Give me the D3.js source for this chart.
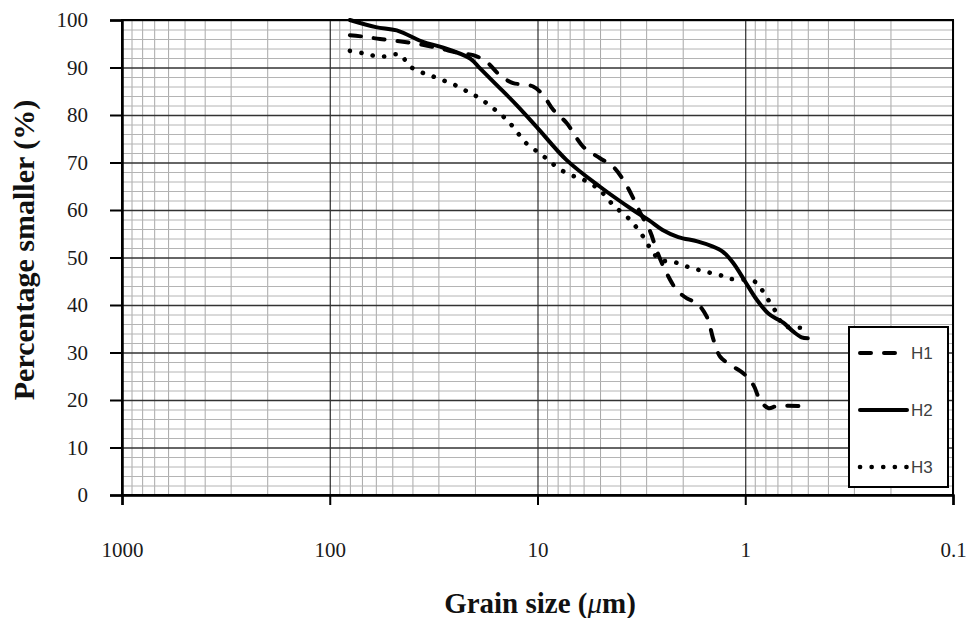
<!DOCTYPE html>
<html>
<head>
<meta charset="utf-8">
<script src="https://cdn.jsdelivr.net/npm/d3@7"></script>
<style>
  html, body { margin: 0; padding: 0; background: #fff; }
  svg { display: block; }
</style>
</head>
<body>
<svg id="chart" width="968" height="618"></svg>
<script>
// Grain size distribution (percentage smaller vs. grain size in µm)
const seriesNames = ["H1", "H2", "H3"];

const sizesH1 = [80, 69, 57.3, 47.6, 36.8, 29.5, 23.6, 20.4, 17.6, 15.2, 13.1, 12.1, 10.5, 9.4, 8.4, 7.24, 6.02, 5.0, 4.32, 3.86, 3.46, 3.21, 2.87, 2.67, 2.39, 2.14, 1.91, 1.71, 1.53, 1.42, 1.32, 1.18, 1.02, 0.915, 0.849, 0.774, 0.706, 0.5];
const pctH1   = [96.8, 96.5, 96, 95.6, 94.9, 94, 93, 92.6, 91.2, 88.4, 86.7, 86.5, 86, 84.2, 81.1, 78.3, 73.3, 70.9, 69.1, 66.3, 62.5, 59.5, 55.5, 51.5, 46.7, 43.2, 41.4, 40.4, 37.5, 32.6, 29.1, 27.4, 25.6, 23.2, 20, 18.3, 18.7, 18.7];

const sizesH2 = [80, 60, 47.6, 35.6, 29.5, 21.1, 18.9, 15.7, 12.6, 10.1, 7.24, 5, 3.47, 2.9, 2.5, 2.1, 1.7, 1.45, 1.28, 1.14, 1.0, 0.88, 0.774, 0.70, 0.656, 0.587, 0.535, 0.5];
const pctH2   = [100, 98.5, 97.8, 95.4, 94.4, 91.9, 89.8, 86.3, 82.1, 77.5, 70.5, 64.9, 60, 57.8, 55.8, 54.3, 53.4, 52.4, 51.2, 48.8, 44.9, 41.1, 38.2, 37, 36.3, 34.4, 33.2, 33];

const sizesH3 = [80, 69, 61.7, 55.2, 48.5, 45.1, 41.9, 35.4, 31.8, 27.4, 24.1, 21.5, 19.6, 17.6, 16, 14.3, 13.1, 11.3, 9.73, 8.87, 7.94, 6.98, 6.24, 5.59, 5, 4.64, 4.24, 3.58, 3.1, 2.87, 2.57, 2.22, 1.91, 1.68, 1.48, 1.28, 1.17, 1.0, 0.88, 0.82, 0.76, 0.70, 0.656, 0.6, 0.53];
const pctH3   = [93.5, 93, 92.5, 92.3, 92.8, 92.6, 90.5, 88.8, 88.1, 87, 86, 84.8, 83.9, 82.5, 81.1, 79.3, 77.5, 74, 71.9, 70.5, 68.8, 67.4, 66.7, 65.6, 64.2, 62.5, 60.7, 57.9, 54.4, 52, 49.5, 49.1, 48.1, 47.4, 46.8, 46.1, 45.5, 45.3, 44.7, 42.8, 40.5, 38, 35.6, 35.3, 35.2];

const xTickValues = [1000, 100, 10, 1, 0.1];
const xTickLabels = ["1000", "100", "10", "1", "0.1"];
const yTickValues = [0, 10, 20, 30, 40, 50, 60, 70, 80, 90, 100];

const xTitle = "Grain size (";
const xTitleUnit = "\u03bc";
const xTitleEnd = "m)";
const yTitle = "Percentage smaller (%)";

// ---- layout
const plotL = 122, plotR = 953, plotT = 20, plotB = 495;
const svg = d3.select("#chart");

const x = d3.scaleLog().domain([1000, 0.1]).range([plotL, plotR]);
const y = d3.scaleLinear().domain([0, 100]).range([plotB, plotT]);

// minor values: 2..9 within each decade; every 2 % vertically
const minorX = [];
[0.1, 1, 10, 100].forEach(dec => { for (let k = 2; k <= 9; k++) minorX.push(+(dec * k).toPrecision(3)); });
const minorY = d3.range(0, 101, 2).filter(v => v % 10 !== 0);

function gridLayer(axis, tx, ty, color, width) {
  const g = svg.append("g").attr("transform", `translate(${tx},${ty})`).call(axis);
  g.select(".domain").remove();
  g.selectAll(".tick text").remove();
  g.selectAll(".tick line").attr("stroke", color).attr("stroke-width", width);
  return g;
}

// minor grid
gridLayer(d3.axisBottom(x).tickValues(minorX).tickSize(-(plotB - plotT)).tickFormat(""), 0, plotB, "#a8a8a8", 1);
gridLayer(d3.axisLeft(y).tickValues(minorY).tickSize(-(plotR - plotL)).tickFormat(""), plotL, 0, "#b4b4b4", 1);
// major grid
gridLayer(d3.axisBottom(x).tickValues(xTickValues).tickSize(-(plotB - plotT)).tickFormat(""), 0, plotB, "#1a1a1a", 1.1);
gridLayer(d3.axisLeft(y).tickValues(yTickValues).tickSize(-(plotR - plotL)).tickFormat(""), plotL, 0, "#333", 1.4);

// plot frame
svg.append("rect")
  .attr("x", plotL).attr("y", plotT)
  .attr("width", plotR - plotL).attr("height", plotB - plotT)
  .attr("fill", "none").attr("stroke", "#000").attr("stroke-width", 2);

// axes
const tickFont = "'Liberation Serif', 'Times New Roman', serif";
const yAxis = svg.append("g").attr("transform", `translate(${plotL},0)`)
  .call(d3.axisLeft(y).tickValues(yTickValues).tickSize(12).tickPadding(22).tickFormat(d3.format("d")));
const xAxis = svg.append("g").attr("transform", `translate(0,${plotB})`)
  .call(d3.axisBottom(x).tickValues(xTickValues).tickSize(10).tickPadding(37)
    .tickFormat((d, i) => xTickLabels[i]));
[yAxis, xAxis].forEach(g => {
  g.select(".domain").attr("stroke", "#000").attr("stroke-width", 2.5);
  g.selectAll(".tick line").attr("stroke", "#000").attr("stroke-width", 2);
  g.selectAll(".tick text").attr("font-family", tickFont).attr("font-size", 21).attr("fill", "#1a1a1a");
});

// axis titles
svg.append("text")
  .attr("x", 540).attr("y", 613)
  .attr("text-anchor", "middle")
  .attr("font-family", tickFont).attr("font-weight", "bold").attr("font-size", 29)
  .attr("fill", "#111")
  .call(t => {
    t.append("tspan").text(xTitle);
    t.append("tspan").attr("font-style", "italic").attr("font-weight", "normal").text(xTitleUnit);
    t.append("tspan").text(xTitleEnd);
  });

svg.append("text")
  .attr("transform", "translate(34,250) rotate(-90)")
  .attr("text-anchor", "middle")
  .attr("font-family", tickFont).attr("font-weight", "bold").attr("font-size", 30)
  .attr("fill", "#111")
  .text(yTitle);

// series
const styles = {
  H1: { dash: "11,13", width: 4 },
  H2: { dash: null, width: 4 },
  H3: { dash: "0.1,11.5", width: 4.6 }
};
const seriesData = {
  H1: sizesH1.map((d, i) => [d, pctH1[i]]),
  H2: sizesH2.map((d, i) => [d, pctH2[i]]),
  H3: sizesH3.map((d, i) => [d, pctH3[i]])
};

const line = d3.line()
  .x(d => x(d[0]))
  .y(d => y(d[1]))
  .curve(d3.curveCatmullRom.alpha(0.5));

seriesNames.forEach(name => {
  const s = styles[name];
  svg.append("path")
    .datum(seriesData[name])
    .attr("d", line)
    .attr("fill", "none")
    .attr("stroke", "#000")
    .attr("stroke-width", s.width)
    .attr("stroke-linecap", "round")
    .attr("stroke-linejoin", "round")
    .attr("stroke-dasharray", s.dash);
});

// legend
const legend = svg.append("g");
legend.append("rect")
  .attr("x", 849).attr("y", 327).attr("width", 99).attr("height", 160)
  .attr("fill", "#fff").attr("stroke", "#000").attr("stroke-width", 2);
const legendY = d3.scalePoint().domain(seriesNames).range([353, 467]);
seriesNames.forEach(name => {
  const s = styles[name];
  const ly = legendY(name);
  legend.append("line")
    .attr("x1", 860).attr("x2", 907)
    .attr("y1", ly).attr("y2", ly)
    .attr("stroke", "#000")
    .attr("stroke-width", s.width)
    .attr("stroke-linecap", "round")
    .attr("stroke-dasharray", s.dash);
  legend.append("text")
    .attr("x", 911).attr("y", ly + 6)
    .attr("font-family", "'Liberation Sans', Arial, sans-serif")
    .attr("font-size", 17)
    .attr("fill", "#404040")
    .text(name);
});
</script>
</body>
</html>
